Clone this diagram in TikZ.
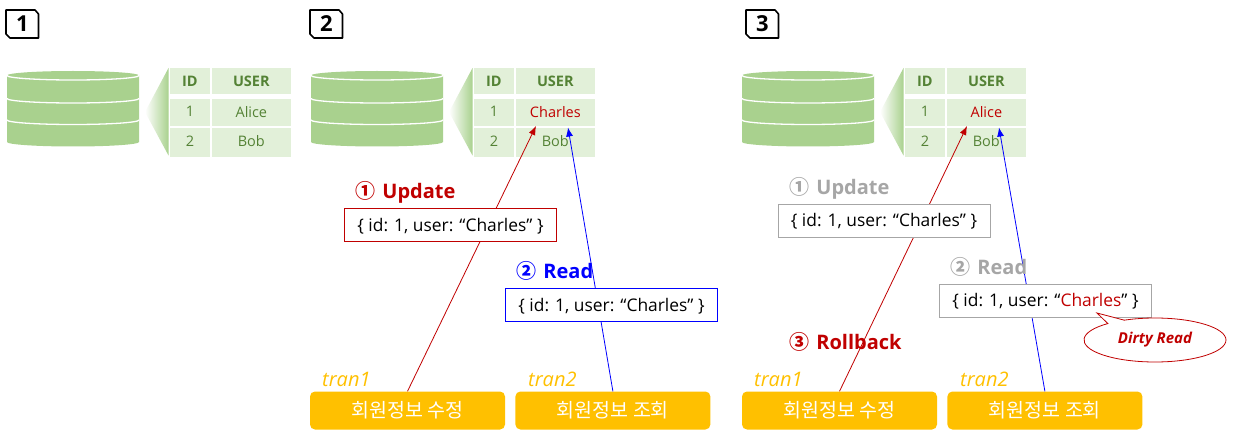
\documentclass[tikz,border=0pt]{standalone}
\usepackage{fontspec}
\setmainfont{Open Sans}
\newfontfamily\cjk{Noto Sans CJK KR}
\usetikzlibrary{positioning,arrows.meta,shapes.geometric,shapes.callouts}
\definecolor{dbgreen}{HTML}{A9D18E}
\definecolor{cellfill}{HTML}{E2F0D9}
\definecolor{cellink}{HTML}{548235}
\definecolor{dirty}{HTML}{C00000}
\definecolor{readblue}{HTML}{0000FF}
\definecolor{trangold}{HTML}{FFC000}
\definecolor{faded}{HTML}{A6A6A6}
\newcommand{\circled}[1]{{\cjk #1}\hspace{2pt}}
\tikzset{
	cellbox/.style={fill=cellfill,text=cellink,inner sep=0pt,text depth=2pt,font=\fontsize{14.5}{16}\selectfont},
	headbox/.style={cellbox,text depth=0pt,font=\fontsize{14.5}{16}\selectfont\bfseries},
	idcol/.style={minimum width=39.5pt},
	usercol/.style={minimum width=78.5pt},
	jsonbox/.style={draw=#1,fill=white,line width=0.8pt,minimum width=212pt,minimum height=33pt,inner sep=0pt,text height=16pt,text depth=4pt,text=black,font=\fontsize{17.4}{19}\selectfont},
	tranbox/.style={fill=trangold,rounded corners=5pt,minimum width=195pt,minimum height=38pt,inner sep=0pt,text=white,font=\cjk\fontsize{19.5}{21}\selectfont},
	tranlabel/.style={text=trangold,inner sep=0pt,anchor=base west,font=\fontsize{20}{22}\selectfont\itshape},
	steplabel/.style={text=#1,inner sep=0pt,anchor=base west,font=\fontsize{20}{22}\selectfont\bfseries},
	updateline/.style={dirty,line width=0.8pt,-{Latex[length=9pt,width=7pt]}},
	readline/.style={readblue,line width=0.8pt,-{Latex[length=9pt,width=7pt]}},
}
\begin{document}
\begin{tikzpicture}[x=1pt,y=-1pt]
	\useasboundingbox (0,0) rectangle (1237,441);

	% database and table of each panel
	\foreach \off/\tagoff/\pn/\who/\whocol in {0/0/1/Alice/cellink,304/304/2/Charles/dirty,735/740/3/Alice/dirty}{
		\begin{scope}[shift={(\off,0)}]
			\fill[dbgreen] (7,75.5) arc[start angle=180,end angle=0,x radius=66pt,y radius=4.5pt] -- (139,142) arc[start angle=0,end angle=-180,x radius=66pt,y radius=4.5pt] -- cycle;
			\foreach \yy in {75.5,98.5,120}
				\draw[white,line width=1.3pt] (7,\yy) arc[start angle=180,end angle=360,x radius=66pt,y radius=4.5pt];
			\shade[left color=white,middle color=cellfill!45,right color=dbgreen] (145,112) -- (168.5,68) -- (168.5,155.5) -- cycle;

			\node[headbox,idcol,minimum height=26pt,anchor=north west] (id\pn) at (170,68) {ID};
			\node[headbox,usercol,minimum height=26pt,right=2pt of id\pn] (user\pn) {USER};
			\node[cellbox,idcol,minimum height=27pt,below=4.5pt of id\pn] (num\pn a) {1};
			\node[cellbox,usercol,minimum height=27pt,below=4.5pt of user\pn,text=\whocol] (name\pn a) {\who};
			\node[cellbox,idcol,minimum height=28.5pt,below=1.7pt of num\pn a] (num\pn b) {2};
			\node[cellbox,usercol,minimum height=28.5pt,below=1.7pt of name\pn a] (name\pn b) {Bob};
		\end{scope}
		\begin{scope}[shift={(\tagoff,0)}]
			\draw[black,line width=1.6pt,line join=round] (6,10) -- (35,10) -- (38.5,14) -- (38.5,38) -- (10,38) -- (6,34) -- cycle;
			\node[inner sep=0pt,font=\fontsize{22}{24}\selectfont\bfseries] (tag\pn) at (22.3,24) {\pn};
		\end{scope}
	}

	% transactions
	\node[tranbox] (upd2) at (407.5,410.5) {회원정보 수정};
	\node[tranbox,right=10pt of upd2] (sel2) {회원정보 조회};
	\node[tranbox] (upd3) at (839.5,410.5) {회원정보 수정};
	\node[tranbox,right=10pt of upd3] (sel3) {회원정보 조회};
	\node[tranlabel] (t1a) at (322,386.5) {tran1};
	\node[tranlabel] (t2a) at (528,386) {tran2};
	\node[tranlabel] (t1b) at (754,386.5) {tran1};
	\node[tranlabel] (t2b) at (960,386) {tran2};

	% arrows
	\coordinate (tipu2) at (536,126);
	\coordinate (tipr2) at (568,127.5);
	\coordinate (tipu3) at (967,126);
	\coordinate (tipr3) at (999,127.5);
	\draw[updateline] (upd2.north) -- (tipu2);
	\draw[readline] (sel2.north) -- (tipr2);
	\draw[updateline] (upd3.north) -- (tipu3);
	\draw[readline] (sel3.north) -- (tipr3);

	% panel 2 steps
	\node[steplabel=dirty] (step2a) at (355,198) {\circled{①} Update};
	\node[jsonbox=dirty] (json2a) at (450.5,225) {\{ id: 1, user: “Charles” \}};
	\node[steplabel=readblue] (step2b) at (516,278) {\circled{②} Read};
	\node[jsonbox=readblue] (json2b) at (611.5,305) {\{ id: 1, user: “Charles” \}};

	% panel 3 steps
	\node[steplabel=faded] (step3a) at (789,194) {\circled{①} Update};
	\node[jsonbox=faded] (json3a) at (884,220.5) {\{ id: 1, user: “Charles” \}};
	\node[steplabel=faded] (step3b) at (950,274) {\circled{②} Read};
	\node[jsonbox=faded] (json3b) at (1045.5,300.5) {\{ id: 1, user: “\textcolor{dirty}{Charles}” \}};
	\node[steplabel=dirty] (step3c) at (789,349) {\circled{③} Rollback};
	\node[ellipse callout,draw=dirty,fill=white,line width=0.8pt,minimum width=142pt,minimum height=44pt,inner sep=0pt,callout absolute pointer={(1097,313)},callout pointer arc=16,text=dirty,font=\fontsize{15}{17}\selectfont\bfseries\itshape] (dirtyread) at (1155,340) {Dirty Read};
\end{tikzpicture}
\end{document}
